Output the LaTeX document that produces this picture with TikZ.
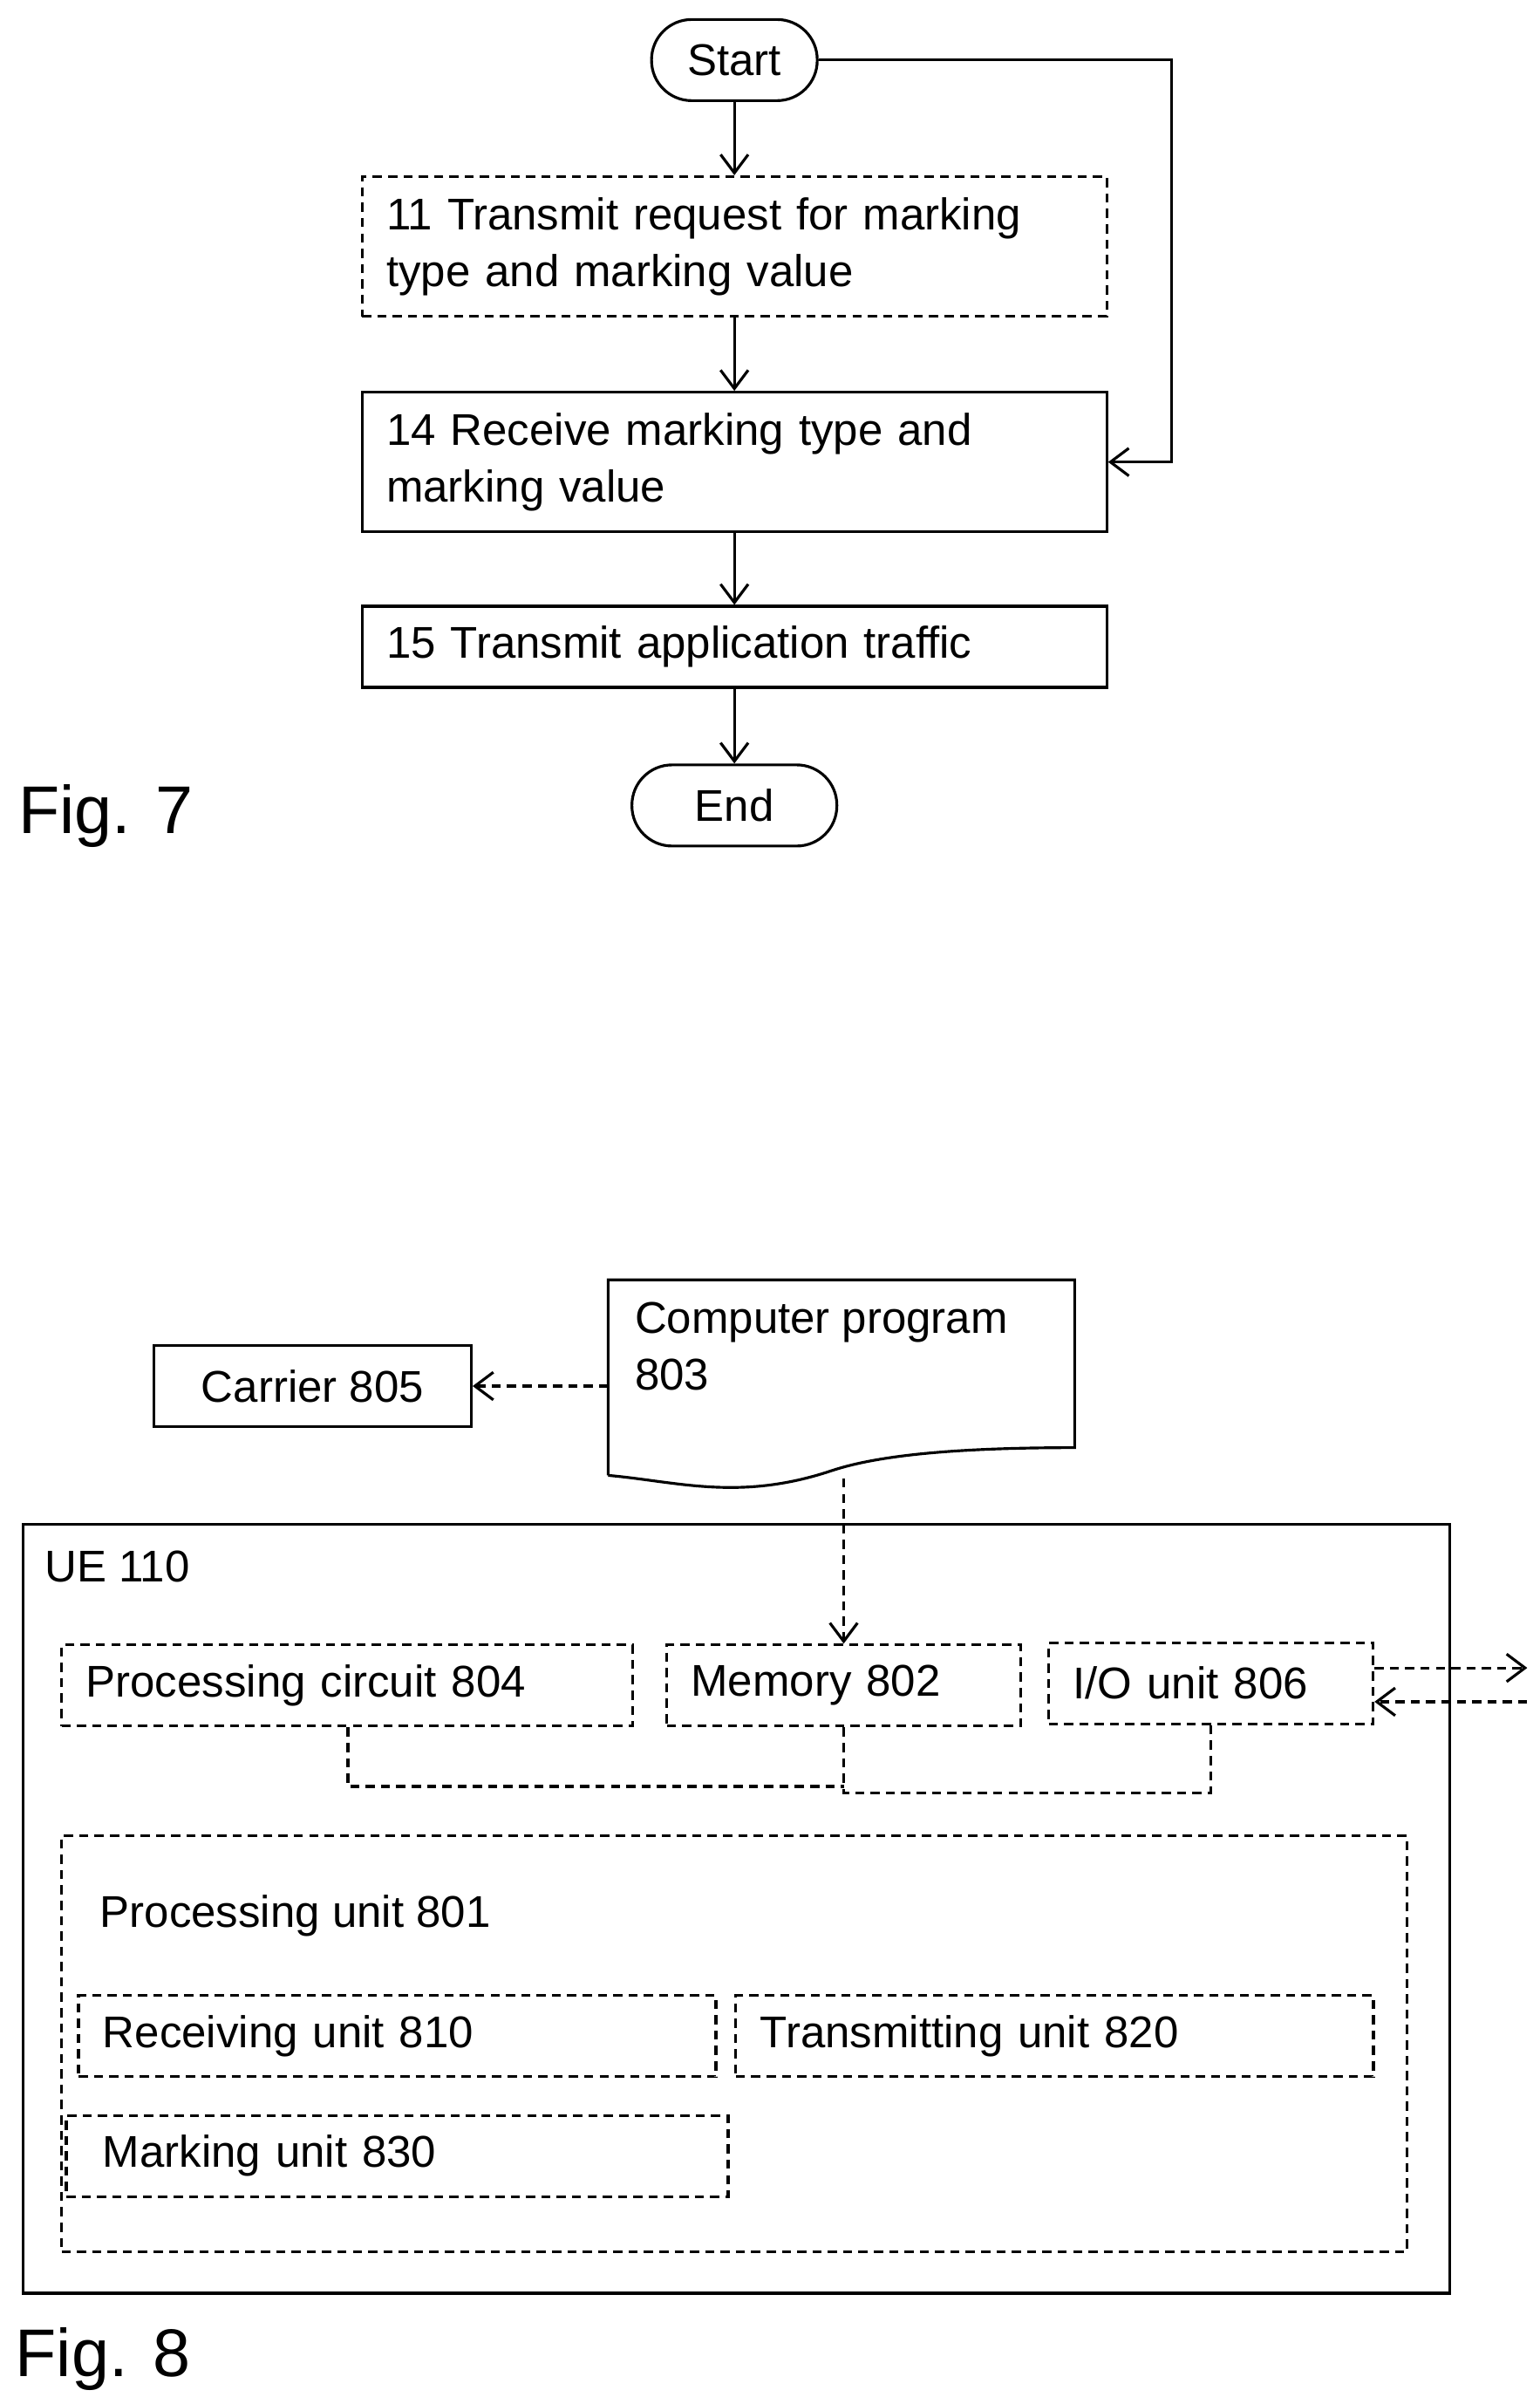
\documentclass[tikz,border=0pt]{standalone}
\usepackage{fontspec}
\setmainfont{Liberation Sans}
\usetikzlibrary{arrows.meta, positioning}

\begin{document}
\begin{tikzpicture}[
    x=0.01765cm, y=-0.01765cm,
    font=\fontsize{14.5}{18.5}\selectfont,
    box/.style={rectangle, draw, line width=0.9pt, inner xsep=0.28cm, align=left, minimum height=0.93cm},
    dbox/.style={box, dash pattern=on 3pt off 2pt},
    term/.style={rectangle, draw, line width=0.9pt, rounded corners=0.46cm, minimum height=0.93cm},
    arrow/.style={-{Straight Barb[length=6pt,width=9pt]}, line width=0.9pt},
    dashedarrow/.style={arrow, dash pattern=on 3pt off 2pt},
    bus/.style={line width=0.9pt, dash pattern=on 3pt off 2pt},
    figlabel/.style={font=\fontsize{22}{26}\selectfont, anchor=west}
]
\useasboundingbox (0,0) rectangle (1000,1561);

% Fig. 7
\node[term, minimum width=1.9cm] (start) at (477,39) {Start};
\node[dbox, text width=7.98cm, minimum height=1.6cm] (s11) at (477,160)
    {11 Transmit request for marking\\type and marking value};
\node[box, text width=7.98cm, minimum height=1.6cm] (s14) at (477,300)
    {14 Receive marking type and\\marking value};
\node[box, text width=7.98cm] (s15) at (477,420) {15 Transmit application traffic};
\node[term, minimum width=2.35cm] (end) at (477,523) {End};
\node[figlabel] (fig7) at (5,530) {Fig. 7};

\coordinate (bend) at (761,39);
\draw[arrow] (start) -- (s11);
\draw[arrow] (s11) -- (s14);
\draw[arrow] (s14) -- (s15);
\draw[arrow] (s15) -- (end);
\draw[arrow] (start.east) -- (bend) |- (s14.east);

% Fig. 8
\node[box, minimum width=3.64cm] (carrier) at (203,900) {Carrier 805};
\node[anchor=north west, inner sep=0pt, align=left] (prog) at (412,845)
    {Computer program\\803};
\draw[line width=0.9pt] (395,958) -- (395,831) -- (698,831) -- (698,940)
    .. controls (620,940) and (570,945) .. (540,955)
    .. controls (480,975) and (440,962) .. (395,958);
\coordinate (progleft) at (395,900);
\coordinate (progbot) at (548,960);

\node[rectangle, draw, line width=0.9pt, minimum width=16.36cm, minimum height=8.81cm] (ue) at (478.5,1239.5) {};
\node[anchor=west] (uelabel) at (22,1017) {UE 110};

\node[dbox, minimum width=6.55cm, text width=5.99cm] (pc) at (225.5,1094.5) {Processing circuit 804};
\node[dbox, minimum width=4.06cm, text width=3.5cm] (mem) at (548,1094.5) {Memory 802};
\node[dbox, minimum width=3.72cm, text width=3.16cm] (io) at (786.5,1093) {I/O unit 806};

\draw[dashedarrow] (progleft) -- (carrier);
\draw[dashedarrow] (progbot) -- (mem);

\coordinate (ioout) at (992,1083);
\coordinate (ioin) at (992,1105);
\draw[dashedarrow] (io.east |- ioout) -- (ioout);
\draw[dashedarrow] (ioin) -- (io.east |- ioin);

\coordinate (busa) at (226,1160);
\coordinate (busb) at (548,1164);
\draw[bus] (pc.south -| busa) -- (busa) -- (busa -| mem.south);
\draw[bus] (mem.south) -- (busb) -| (io.south);

\node[rectangle, draw, line width=0.9pt, dash pattern=on 3pt off 2pt, minimum width=15.43cm, minimum height=4.77cm] (pu) at (477,1327) {};
\node[anchor=west] (pulabel) at (58,1244) {Processing unit 801};
\node[dbox, minimum width=7.31cm, text width=6.75cm] (recv) at (258,1322) {Receiving unit 810};
\node[dbox, minimum width=7.31cm, text width=6.75cm] (trans) at (685,1322) {Transmitting unit 820};
\node[dbox, minimum width=7.31cm, text width=6.75cm, inner xsep=0.42cm] (mark) at (258,1400) {Marking unit 830};

\node[figlabel] (fig8) at (3,1532) {Fig. 8};
\end{tikzpicture}
\end{document}
